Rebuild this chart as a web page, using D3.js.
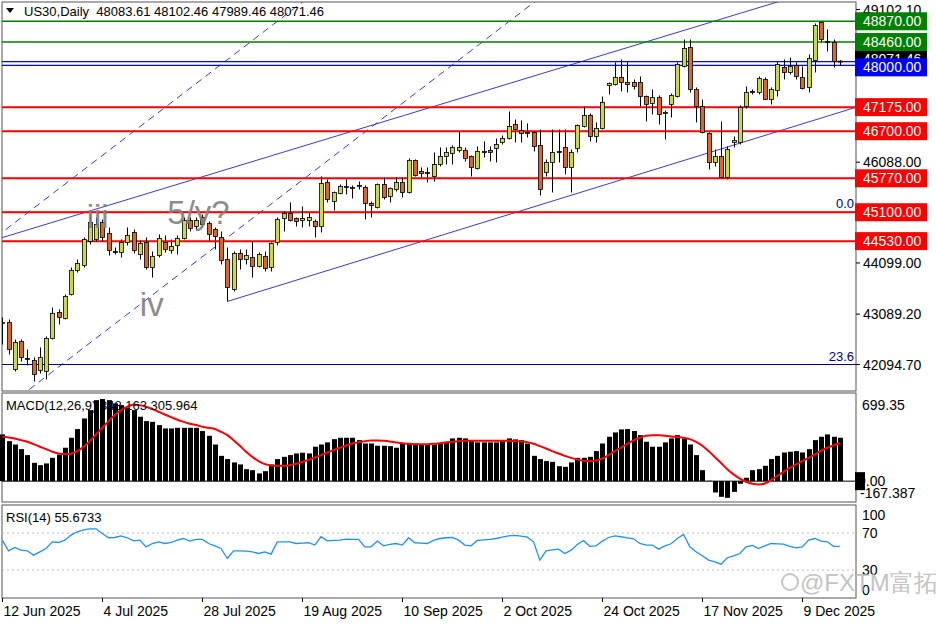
<!DOCTYPE html>
<html>
<head>
<meta charset="utf-8">
<script src="https://cdn.jsdelivr.net/npm/d3@7"></script>
<style>
  body { margin: 0; background: #fff; }
  text { font-family: "Liberation Sans", Arial, sans-serif; }
</style>
</head>
<body>
<svg id="chart" width="936" height="624"></svg>
<script>
// ---- data ----
const open = [42904,42924,41996,42549,42213,42174,41977,41957,42608,43121,43003,43477,43950,44049,44523,44562,44898,44680,44325,44305,
  44503,44700,44266,44503,44010,44246,44503,44345,44444,44582,44937,44819,44997,44878,44760,44602,44167,43575,44286,44167,
  44207,44029,44226,44010,44503,44977,45076,44977,44937,44937,44918,44819,45688,45312,45470,45609,45589,45609,45589,45273,
  45194,45648,45411,45549,45688,45490,46122,45905,45885,45806,46043,46201,46260,46319,46319,46201,45964,46299,46319,46359,
  46477,46556,46832,46714,46675,46675,46418,45885,46082,46299,46378,45984,46359,46793,47010,46596,46754,47602,47622,47760,
  47662,47662,47662,47385,47247,47365,47050,47227,47385,47977,48352,47523,47188,46655,46082,46201,45786,46477,46477,47188,
  47484,47464,47721,47326,47504,47958,47859,47997,47760,47563,48096,48846,48471,48451,48083.61];
const high = [43023,42983,42588,42588,42391,42233,42431,42648,43220,43181,43477,44010,44167,44602,45056,44997,44957,44799,44404,44562,
  44799,44760,44542,44602,44325,44661,44641,44562,44641,44997,44997,44997,45056,44918,44799,44720,44404,44325,44365,44365,
  44523,44305,44325,44503,44997,45115,45293,44997,45214,45095,44957,45806,45747,45510,45648,45747,45628,45707,45628,45312,
  45668,45786,45589,45786,45786,46161,46142,45984,45984,46280,46378,46378,46418,46694,46378,46220,46398,46497,46398,46556,
  46615,47089,46931,46911,46852,46694,46734,46142,46734,46734,46734,46339,46832,47188,47050,46872,47385,47662,48056,48116,
  48076,47721,47780,47405,47523,47405,47109,47444,48056,48510,48510,47563,47326,46675,46339,46892,46398,46596,47208,47583,
  47523,47780,47760,47563,48076,48116,48155,48056,47977,48214,48826,48866,48708,48510,48102.46];
const low = [42490,42292,41957,42154,42075,41759,41917,41799,42588,42885,42983,43457,43911,44010,44463,44523,44523,44246,44266,44207,
  44444,44286,44167,43970,43812,44207,44305,44286,44266,44562,44720,44740,44799,44523,44365,44069,43339,43536,43970,44069,
  43812,44010,43931,43931,44444,44720,44918,44819,44799,44819,44602,44700,45293,45135,45451,45451,45372,45549,44957,44997,
  45174,45352,45293,45510,45391,45470,45806,45786,45688,45707,46003,46043,46043,46280,46102,45806,45944,46181,46102,46082,
  46438,46536,46477,46477,46576,46299,45431,45806,45490,46082,45846,45490,46280,46773,46497,46477,46734,47425,47602,47484,
  47464,47523,47188,46892,47030,46832,46536,46971,47365,47958,47464,46872,46655,45944,46003,45766,45747,46378,46438,47148,
  47425,47425,47326,47227,47385,47721,47820,47721,47523,47464,47859,48451,48274,47958,47989.46];
const close = [42924,42391,42529,42233,42194,41898,42233,42608,43102,43023,43437,43950,44089,44562,44898,44858,44602,44345,44305,44503,
  44641,44345,44483,44010,44226,44582,44365,44424,44582,44937,44779,44937,44858,44661,44621,44147,43615,44286,44167,44246,
  44029,44266,43990,44483,44957,45076,44937,44918,44977,44997,44819,45668,45352,45490,45609,45589,45569,45628,45273,45233,
  45648,45391,45569,45688,45490,46122,45826,45865,45865,46043,46201,46280,46378,46378,46161,45984,46299,46280,46280,46438,
  46556,46793,46734,46655,46675,46398,45549,46082,46280,46280,45984,46280,46813,47010,46596,46754,47267,47642,47760,47662,
  47622,47583,47385,47227,47365,47030,47069,47405,48017,48333,47523,47188,46675,46082,46201,45786,46339,46517,47168,47464,
  47464,47741,47326,47523,48017,47859,47977,47780,47543,48135,48787,48510,48451,48076,48071.46];

const macdMain = [375,321,294,257,209,147,128,142,187,214,268,348,418,503,570,650,659,650,624,610,
  589,570,517,482,476,450,423,423,428,428,428,428,402,364,294,203,177,150,134,96,
  88,62,80,134,177,195,209,222,228,222,276,294,311,337,348,348,348,329,302,302,
  284,284,281,268,302,302,302,294,294,294,302,316,343,348,343,329,311,311,311,311,
  329,343,335,329,302,203,177,161,155,120,115,150,187,187,195,241,302,356,391,415,
  418,402,369,316,276,276,311,343,369,343,294,209,88,3,-91,-126,-134,-86,-21,27,
  88,96,123,177,203,230,236,241,230,257,329,356,375,356,348.163];
const macdSignal = [356,351,343,329,316,297,276,257,236,222,217,222,241,276,321,375,428,482,530,570,
  597,616,610,597,578,557,535,514,493,476,460,450,436,428,418,396,369,329,284,236,
  195,161,137,126,123,123,128,139,155,171,190,209,230,249,268,286,302,313,321,327,
  327,324,319,311,305,300,297,297,297,300,305,311,316,321,324,324,324,324,324,324,
  324,324,321,319,313,300,281,262,241,222,203,187,174,163,161,166,182,209,241,270,
  300,327,348,364,369,369,364,359,353,348,337,316,284,241,193,145,96,54,21,-5,
  -21,-27,-19,8,43,75,107,134,161,187,214,244,268,289,305.964];
const rsi = [62.3,50.8,54.4,51.5,50.8,46.1,49.7,53.3,60.5,59.8,62.3,67.8,71.4,73.5,74.6,74.6,69.6,64.9,65.2,67.0,
  64.9,61.6,62.3,55.1,58.7,60.5,58.7,59.8,62.3,64.1,61.3,63.1,63.1,58.7,56.2,53.3,42.5,50.8,50.8,50.5,
  49.7,47.9,49.7,47.2,60.5,60.5,60.5,58.7,59.1,59.5,57.0,66.0,61.6,62.0,62.3,63.4,63.1,63.1,55.1,55.1,
  61.3,56.2,57.7,58.7,57.0,64.9,59.5,59.1,58.7,62.0,64.1,64.9,65.2,62.3,57.0,56.2,62.0,62.7,63.1,64.1,
  65.6,67.0,67.4,66.7,65.6,60.5,40.7,50.8,51.9,52.6,47.9,51.5,57.7,62.0,55.7,56.2,61.3,65.2,67.0,66.0,
  64.9,63.8,58.7,57.0,57.0,52.6,56.2,58.4,64.1,68.5,55.1,49.7,45.4,40.7,38.9,36.4,43.3,45.4,47.9,55.1,
  56.6,53.3,56.2,58.7,58.4,58.0,55.7,54.0,55.1,62.3,64.1,61.3,60.5,55.7,55.6733];

const dateLabels = ["12 Jun 2025","4 Jul 2025","28 Jul 2025","19 Aug 2025","10 Sep 2025","2 Oct 2025","24 Oct 2025","17 Nov 2025","9 Dec 2025"];
const dateBars = [0,16,32,48,64,80,96,112,128];

const priceTicks = [49102.10, 46088.00, 44099.00, 43089.20, 42094.70];
const redLevels = [47175, 46700, 45770, 45100, 44530];
const greenLevels = [48870, 48460];
const blueLevels = [48071.46, 48000];
const fibLevels = [{ name: "0.0", price: 45100 }, { name: "23.6", price: 42094.7 }];
const rsiTicks = [100, 70, 30, 0];

// trend lines as [bar, price] anchors
const channelUpper = [[0, 44600], [120, 49100]];
const channelLower = [[36, 43339], [134, 47073]];
const dashUpper = [[0, 44707], [40, 48490]];
const dashLower = [[5, 41667], [70, 47817]];

const waves = [{ t: "iii", bar: 13.5, price: 44780 }, { t: "5/y?", bar: 26.4, price: 44870 }, { t: "iv", bar: 22, price: 43060 }];

// ---- layout ----
const svg = d3.select("#chart");
const plotL = 2, plotR = 856;
const main = { top: 2, bottom: 391 };
const macdP = { top: 393, bottom: 502 };
const rsiP = { top: 505, bottom: 598 };

const x = d3.scaleLinear().domain([0, 134]).range([2.3, 839.8]);
const y = d3.scaleLinear().domain([42094.7, 49102.1]).range([364.5, 9.5]);
const ym = d3.scaleLinear().domain([-167.387, 699.35]).range([502, 394]);
const yr = d3.scaleLinear().domain([0, 100]).range([597.8, 505.3]);

svg.append("rect").attr("width", 936).attr("height", 624).attr("fill", "#fff");

const defs = svg.append("defs");
defs.append("clipPath").attr("id", "clipMain").append("rect")
  .attr("x", plotL).attr("y", main.top).attr("width", plotR - plotL).attr("height", main.bottom - main.top);

// panel frames
[main, macdP, rsiP].forEach((p) => {
  svg.append("rect").attr("x", plotL).attr("y", p.top)
    .attr("width", plotR - plotL).attr("height", p.bottom - p.top)
    .attr("fill", "none").attr("stroke", "#555").attr("stroke-width", 1);
});

const g = svg.append("g").attr("clip-path", "url(#clipMain)");

// trend lines
const extendLine = (pts, fromBar, toBar) => {
  const [[b1, p1], [b2, p2]] = pts;
  const k = (p2 - p1) / (b2 - b1);
  return [[fromBar, p1 + k * (fromBar - b1)], [toBar, p1 + k * (toBar - b1)]];
};
const drawTrend = (pts, fromBar, toBar, dash) => {
  const seg = extendLine(pts, fromBar, toBar);
  g.append("line")
    .attr("x1", x(seg[0][0])).attr("y1", y(seg[0][1]))
    .attr("x2", x(seg[1][0])).attr("y2", y(seg[1][1]))
    .attr("stroke", "#3a3ad8").attr("stroke-width", 1)
    .attr("stroke-dasharray", dash ? "7,5" : null);
};
drawTrend(channelUpper, -1, 150, false);
drawTrend(channelLower, 36, 150, false);
drawTrend(dashUpper, -1, 60, true);
drawTrend(dashLower, 4.3, 90, true);

// horizontal levels
fibLevels.forEach((f) => {
  g.append("line").attr("x1", plotL).attr("x2", plotR).attr("y1", y(f.price)).attr("y2", y(f.price))
    .attr("stroke", "#000080").attr("stroke-width", 1);
});
redLevels.forEach((p) => {
  g.append("line").attr("x1", plotL).attr("x2", plotR).attr("y1", y(p)).attr("y2", y(p))
    .attr("stroke", "#ff0000").attr("stroke-width", 2);
});
greenLevels.forEach((p) => {
  g.append("line").attr("x1", plotL).attr("x2", plotR).attr("y1", y(p)).attr("y2", y(p))
    .attr("stroke", "#008000").attr("stroke-width", 1.5);
});
blueLevels.forEach((p) => {
  g.append("line").attr("x1", plotL).attr("x2", plotR).attr("y1", y(p)).attr("y2", y(p))
    .attr("stroke", "#0000ff").attr("stroke-width", 1.2);
});

// candles
const idx = d3.range(open.length);
g.selectAll("line.wick").data(idx).join("line")
  .attr("x1", (i) => Math.round(x(i)) + 0.5).attr("x2", (i) => Math.round(x(i)) + 0.5)
  .attr("y1", (i) => y(high[i])).attr("y2", (i) => y(low[i]))
  .attr("stroke", "#000").attr("stroke-width", 1);
g.selectAll("rect.body").data(idx).join("rect")
  .attr("x", (i) => Math.round(x(i)) - 1.5)
  .attr("y", (i) => y(Math.max(open[i], close[i])))
  .attr("width", 4)
  .attr("height", (i) => Math.max(1, Math.abs(y(open[i]) - y(close[i]))))
  .attr("fill", (i) => (close[i] >= open[i] ? "#c8d84a" : "#e0622c"))
  .attr("stroke", "#000").attr("stroke-width", 0.8);

// wave labels (drawn over the candles, as in the terminal)
waves.forEach((w) => {
  g.append("text").attr("x", x(w.bar)).attr("y", y(w.price))
    .attr("font-size", 33).attr("fill", "#808080").attr("opacity", 0.9).text(w.t);
});

// fib labels
fibLevels.forEach((f) => {
  svg.append("text").attr("x", plotR - 2).attr("y", y(f.price) - 4).attr("text-anchor", "end")
    .attr("font-size", 13).attr("fill", "#000080").text(f.name);
});

// header
svg.append("path").attr("d", "M6,8 L14,8 L10,13 Z").attr("fill", "#000");
svg.append("text").attr("x", 24).attr("y", 16).attr("font-size", 13)
  .attr("xml:space", "preserve").text("US30,Daily  48083.61 48102.46 47989.46 48071.46");

// right price axis
priceTicks.forEach((p) => {
  svg.append("line").attr("x1", plotR).attr("x2", plotR + 4).attr("y1", y(p)).attr("y2", y(p)).attr("stroke", "#000");
  svg.append("text").attr("x", 863).attr("y", y(p) + 5).attr("font-size", 14).text(p.toFixed(2));
});
const tagBox = (price, color, yOff) => {
  const yy = y(price) + (yOff || 0);
  svg.append("rect").attr("x", 855).attr("y", yy - 9).attr("width", 72).attr("height", 18).attr("fill", color);
  svg.append("text").attr("x", 863).attr("y", yy + 5).attr("font-size", 14).attr("fill", "#fff")
    .text(price.toFixed(2));
};
tagBox(48071.46, "#000", -3);
greenLevels.forEach((p) => tagBox(p, "#008000"));
tagBox(48000, "#0000ff", 2);
redLevels.forEach((p) => tagBox(p, "#ff0000"));

// MACD panel
const bw = 5;
svg.append("g").selectAll("rect").data(idx).join("rect")
  .attr("x", (i) => Math.round(x(i)) - 2)
  .attr("y", (i) => Math.min(ym(0), ym(macdMain[i])))
  .attr("width", bw)
  .attr("height", (i) => Math.abs(ym(macdMain[i]) - ym(0)))
  .attr("fill", "#000");
svg.append("line").attr("x1", plotL).attr("x2", plotR).attr("y1", ym(0)).attr("y2", ym(0)).attr("stroke", "#000");
svg.append("path").datum(idx)
  .attr("d", d3.line().x((i) => x(i)).y((i) => ym(macdSignal[i])).curve(d3.curveMonotoneX))
  .attr("fill", "none").attr("stroke", "#ff0000").attr("stroke-width", 2);
svg.append("text").attr("x", 6).attr("y", 410).attr("font-size", 13).text("MACD(12,26,9) 348.163 305.964");
svg.append("text").attr("x", 862).attr("y", 410).attr("font-size", 14).text("699.35");
svg.append("rect").attr("x", 855).attr("y", ym(0) - 9).attr("width", 10).attr("height", 18).attr("fill", "#000");
svg.append("text").attr("x", 858).attr("y", ym(0) + 5).attr("font-size", 14).text("0.00");
svg.append("text").attr("x", 860).attr("y", 498).attr("font-size", 14).text("-167.387");

// RSI panel
[70, 30].forEach((v) => {
  svg.append("line").attr("x1", plotL).attr("x2", plotR).attr("y1", yr(v)).attr("y2", yr(v))
    .attr("stroke", "#bbb").attr("stroke-dasharray", "2,3");
});
svg.append("path").datum(idx)
  .attr("d", d3.line().x((i) => x(i)).y((i) => yr(rsi[i])))
  .attr("fill", "none").attr("stroke", "#1e90ff").attr("stroke-width", 1.3);
svg.append("text").attr("x", 6).attr("y", 522).attr("font-size", 13).text("RSI(14) 55.6733");
rsiTicks.forEach((v) => {
  const yy = v === 100 ? 515 : v === 0 ? 590 : yr(v);
  svg.append("text").attr("x", 862).attr("y", yy + 5).attr("font-size", 14).text(v);
});

// watermark
svg.append("circle").attr("cx", 790).attr("cy", 582).attr("r", 8)
  .attr("fill", "none").attr("stroke", "#c4c4c4").attr("stroke-width", 2);
svg.append("text").attr("x", 800).attr("y", 591).attr("font-size", 24)
  .attr("font-family", "'Noto Sans CJK SC', sans-serif").attr("fill", "#b5b5b5").attr("opacity", 0.8)
  .text("@FXTM富拓");

// date axis
dateBars.forEach((b, k) => {
  const xx = Math.round(x(b)) + 0.5;
  svg.append("line").attr("x1", xx).attr("x2", xx).attr("y1", rsiP.bottom).attr("y2", rsiP.bottom + 4).attr("stroke", "#000");
  svg.append("text").attr("x", xx + 1).attr("y", 616).attr("font-size", 14).text(dateLabels[k]);
});
</script>
</body>
</html>
